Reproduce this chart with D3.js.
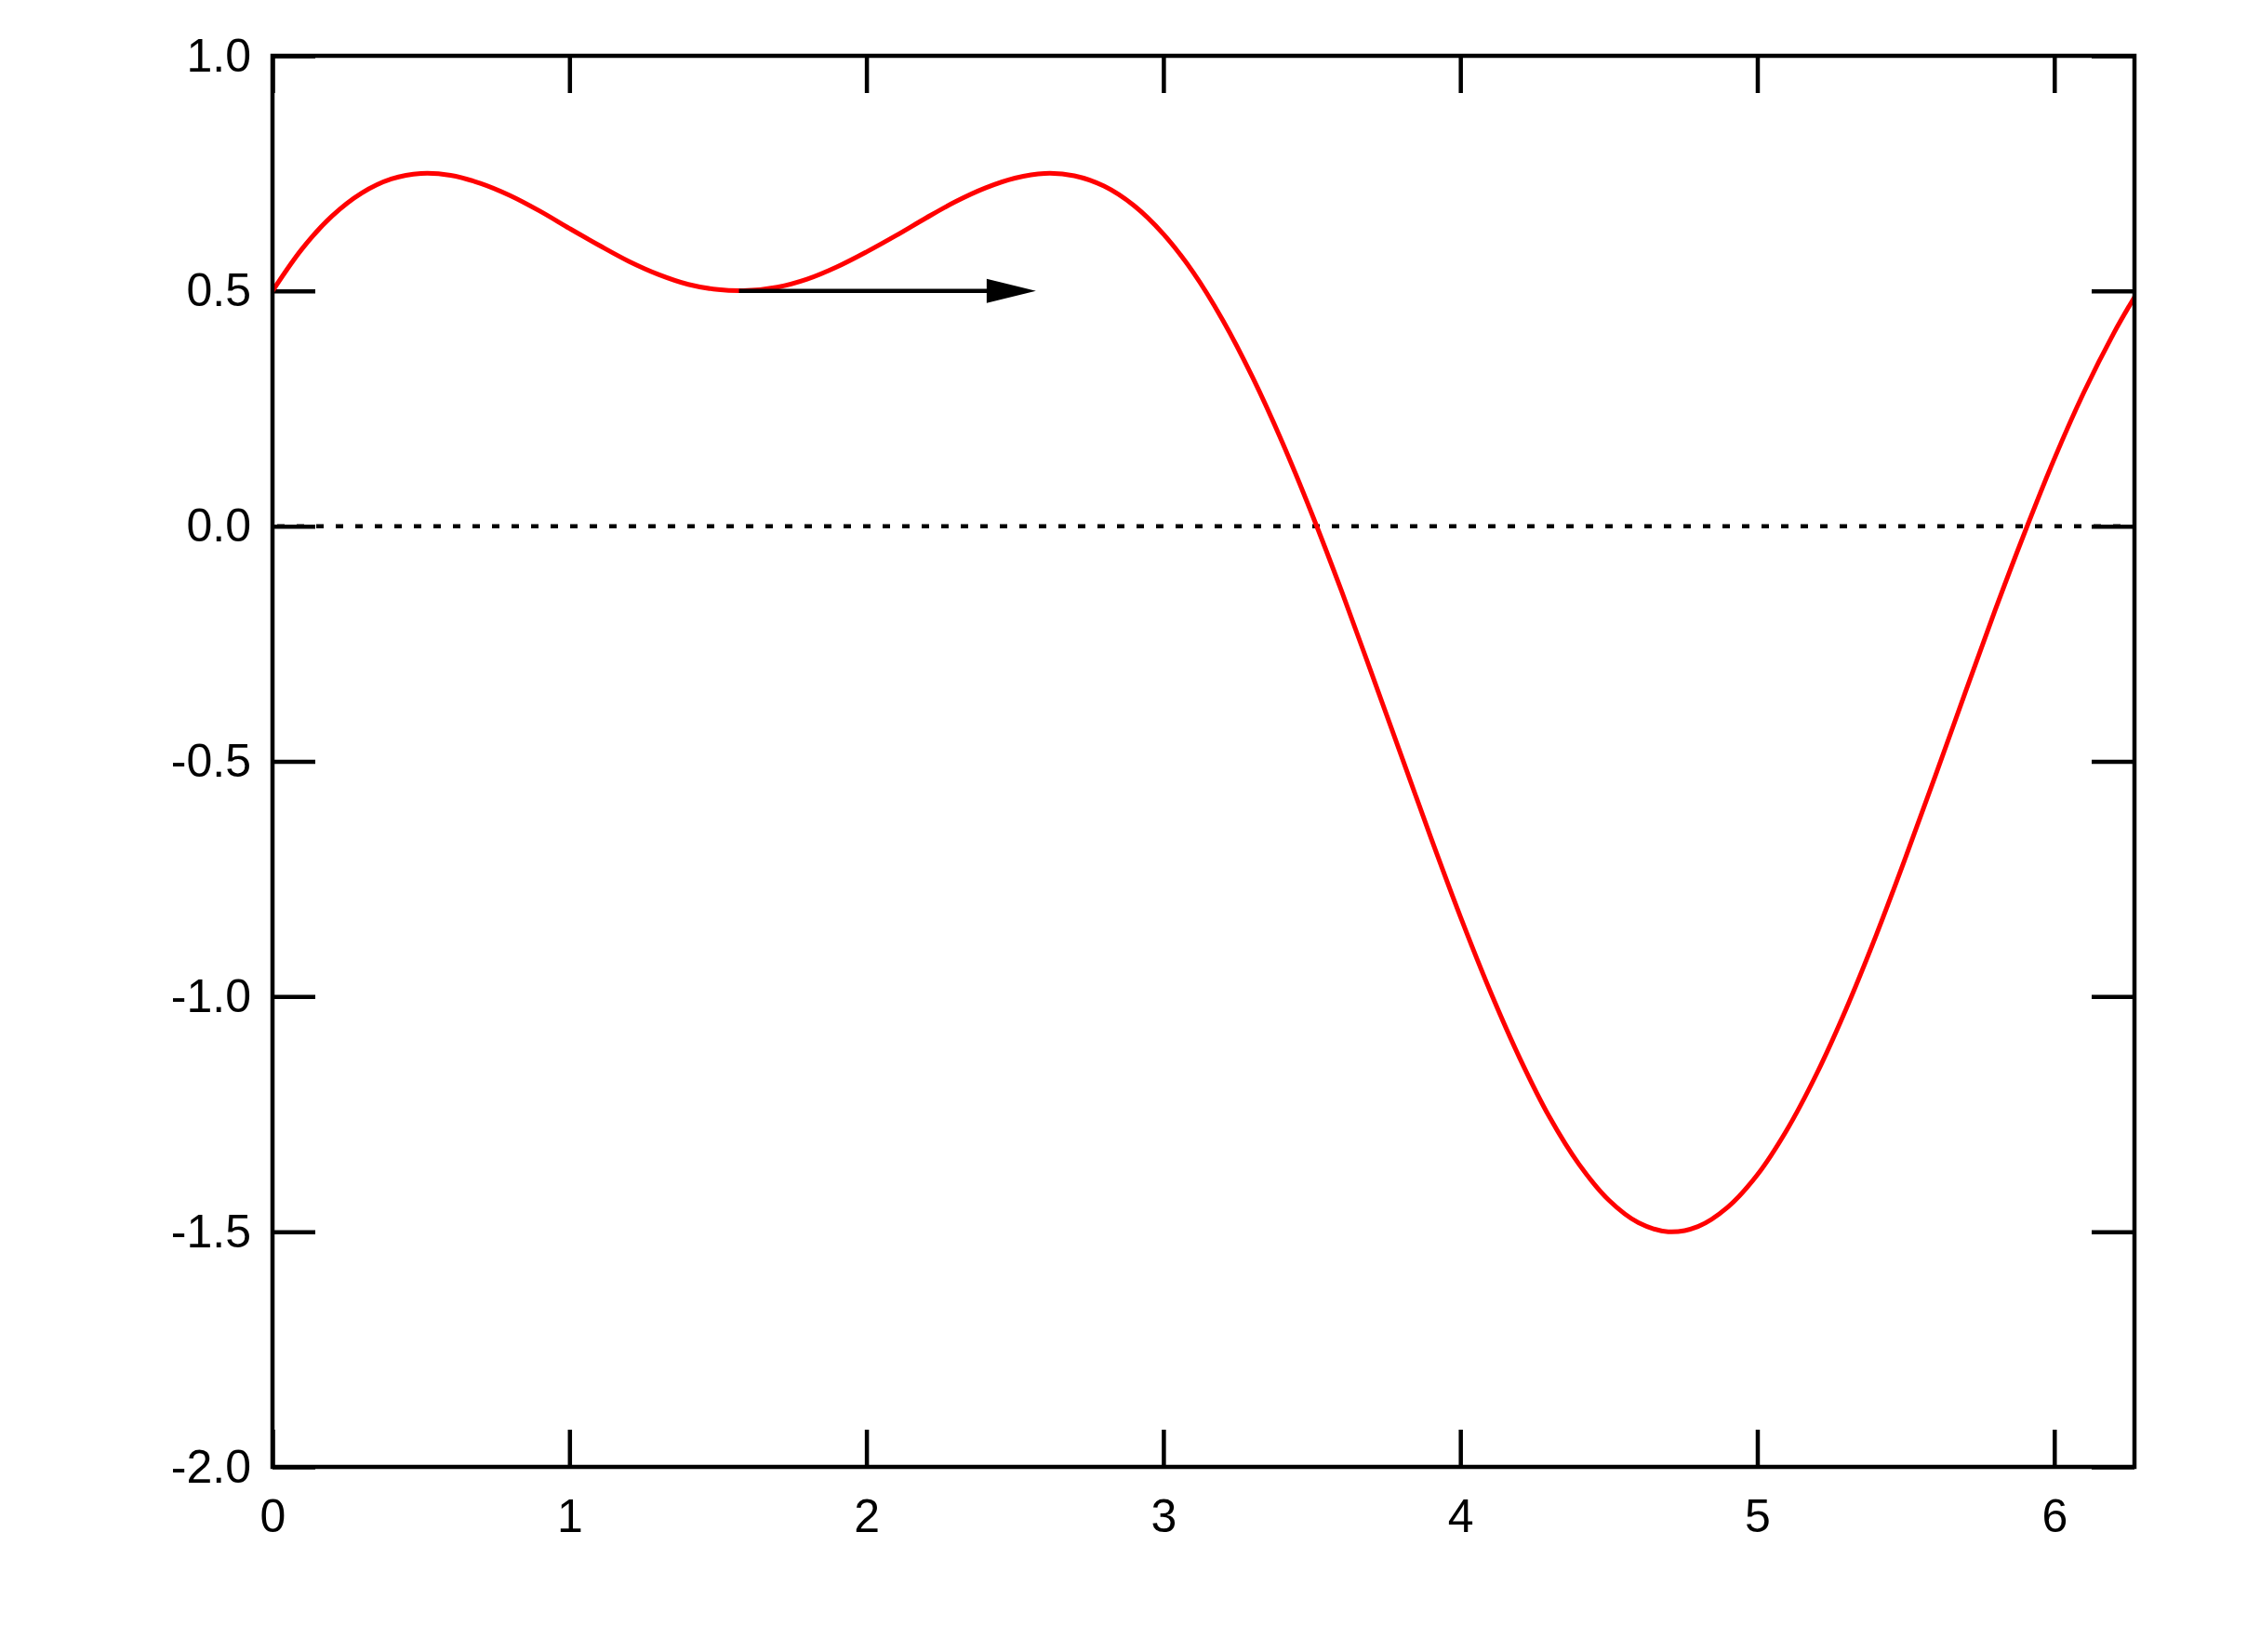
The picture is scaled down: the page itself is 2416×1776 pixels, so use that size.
<!DOCTYPE html>
<html>
<head>
<meta charset="utf-8">
<script src="https://cdn.jsdelivr.net/npm/d3@7"></script>
<style>
  html, body { margin: 0; padding: 0; background: #fff; }
  svg { display: block; }
  .tick text { font-family: "Liberation Sans", Arial, sans-serif; font-size: 50px; fill: #000; }
</style>
</head>
<body>
<svg id="chart" width="2416" height="1776"></svg>
<script>
// curve samples
const xs = [0, 0.1, 0.2, 0.3, 0.4, 0.5, 0.6, 0.7, 0.8, 0.9,
            1.0, 1.1, 1.2, 1.3, 1.4, 1.5, 1.6, 1.7, 1.8, 1.9,
            2.0, 2.1, 2.2, 2.3, 2.4, 2.5, 2.6, 2.7, 2.8, 2.9,
            3.0, 3.1, 3.2, 3.3, 3.4, 3.5, 3.6, 3.7, 3.8, 3.9,
            4.0, 4.1, 4.2, 4.3, 4.4, 4.5, 4.6, 4.7, 4.8, 4.9,
            5.0, 5.1, 5.2, 5.3, 5.4, 5.5, 5.6, 5.7, 5.8, 5.9,
            6.0, 6.1, 6.2, 6.27];
const ys = [0.500, 0.590, 0.659, 0.708, 0.738, 0.750, 0.746, 0.729, 0.703, 0.670,
            0.633, 0.597, 0.563, 0.535, 0.514, 0.503, 0.501, 0.508, 0.525, 0.551,
            0.583, 0.618, 0.655, 0.690, 0.719, 0.740, 0.750, 0.745, 0.723, 0.682,
            0.621, 0.540, 0.438, 0.317, 0.179, 0.026, -0.138, -0.311, -0.486, -0.661,
            -0.830, -0.988, -1.131, -1.256, -1.357, -1.433, -1.481, -1.500, -1.489, -1.448,
            -1.379, -1.283, -1.164, -1.025, -0.870, -0.703, -0.530, -0.354, -0.180, -0.014,
            0.143, 0.285, 0.410, 0.487];

const xTicks = [0, 1, 2, 3, 4, 5, 6];
const yTicks = [-2.0, -1.5, -1.0, -0.5, 0.0, 0.5, 1.0];
const xDomain = [0, 6.27];
const yDomain = [-2.0, 1.0];

// arrow: [x, y] start and tip
const arrowFrom = [1.5708, 0.5];
const arrowTo = [2.5708, 0.5];
const zeroLine = 0.0;

const plotLeft = 293, plotRight = 2295, plotTop = 60, plotBottom = 1577;
const xTickLen = 40, yTickLen = 46;

const svg = d3.select('#chart');

const x = d3.scaleLinear().domain(xDomain).range([plotLeft, plotRight]);
const y = d3.scaleLinear().domain(yDomain).range([plotBottom, plotTop]);

// dotted zero line
svg.append('line')
  .attr('x1', x(xDomain[0])).attr('x2', x(xDomain[1]))
  .attr('y1', y(zeroLine)).attr('y2', y(zeroLine))
  .attr('stroke', '#000')
  .attr('stroke-width', 4.5)
  .attr('stroke-dasharray', '8,13')
  .attr('stroke-dashoffset', -5);

// axes, ticks pointing inward on all sides
function styleAxis(g){
  g.select('.domain').remove();
  g.selectAll('.tick line').attr('stroke', '#000').attr('stroke-width', 4.5);
}

svg.append('g')
  .attr('transform', 'translate(0,' + plotBottom + ')')
  .call(d3.axisBottom(x).tickValues(xTicks).tickSizeInner(-xTickLen).tickSizeOuter(0)
    .tickPadding(34).tickFormat(d3.format('d')))
  .call(styleAxis);

svg.append('g')
  .attr('transform', 'translate(0,' + plotTop + ')')
  .call(d3.axisTop(x).tickValues(xTicks).tickSizeInner(-xTickLen).tickSizeOuter(0).tickFormat(''))
  .call(styleAxis);

svg.append('g')
  .attr('transform', 'translate(' + plotLeft + ',0)')
  .call(d3.axisLeft(y).tickValues(yTicks).tickSizeInner(-yTickLen).tickSizeOuter(0)
    .tickPadding(23).tickFormat(function(d){ return d.toFixed(1); }))
  .call(styleAxis);

svg.append('g')
  .attr('transform', 'translate(' + plotRight + ',0)')
  .call(d3.axisRight(y).tickValues(yTicks).tickSizeInner(-yTickLen).tickSizeOuter(0).tickFormat(''))
  .call(styleAxis);

svg.selectAll('.tick text').attr('fill', '#000');

// red curve
const line = d3.line()
  .x(function(d, i){ return x(xs[i]); })
  .y(function(d){ return y(d); })
  .curve(d3.curveCatmullRom);

svg.append('path')
  .datum(ys)
  .attr('d', line)
  .attr('fill', 'none')
  .attr('stroke', '#ff0000')
  .attr('stroke-width', 5);

// arrow
const headLen = 53, headHalf = 13;
const ax0 = x(arrowFrom[0]), ay = y(arrowFrom[1]), ax1 = x(arrowTo[0]);

svg.append('line')
  .attr('x1', ax0).attr('x2', ax1 - headLen + 2)
  .attr('y1', ay).attr('y2', ay)
  .attr('stroke', '#000')
  .attr('stroke-width', 4.5);

svg.append('path')
  .attr('d', 'M' + ax1 + ',' + ay +
    'L' + (ax1 - headLen) + ',' + (ay - headHalf) +
    'L' + (ax1 - headLen) + ',' + (ay + headHalf) + 'Z')
  .attr('fill', '#000');

// frame
svg.append('rect')
  .attr('x', plotLeft).attr('y', plotTop)
  .attr('width', plotRight - plotLeft).attr('height', plotBottom - plotTop)
  .attr('fill', 'none')
  .attr('stroke', '#000')
  .attr('stroke-width', 4.5);
</script>
</body>
</html>
